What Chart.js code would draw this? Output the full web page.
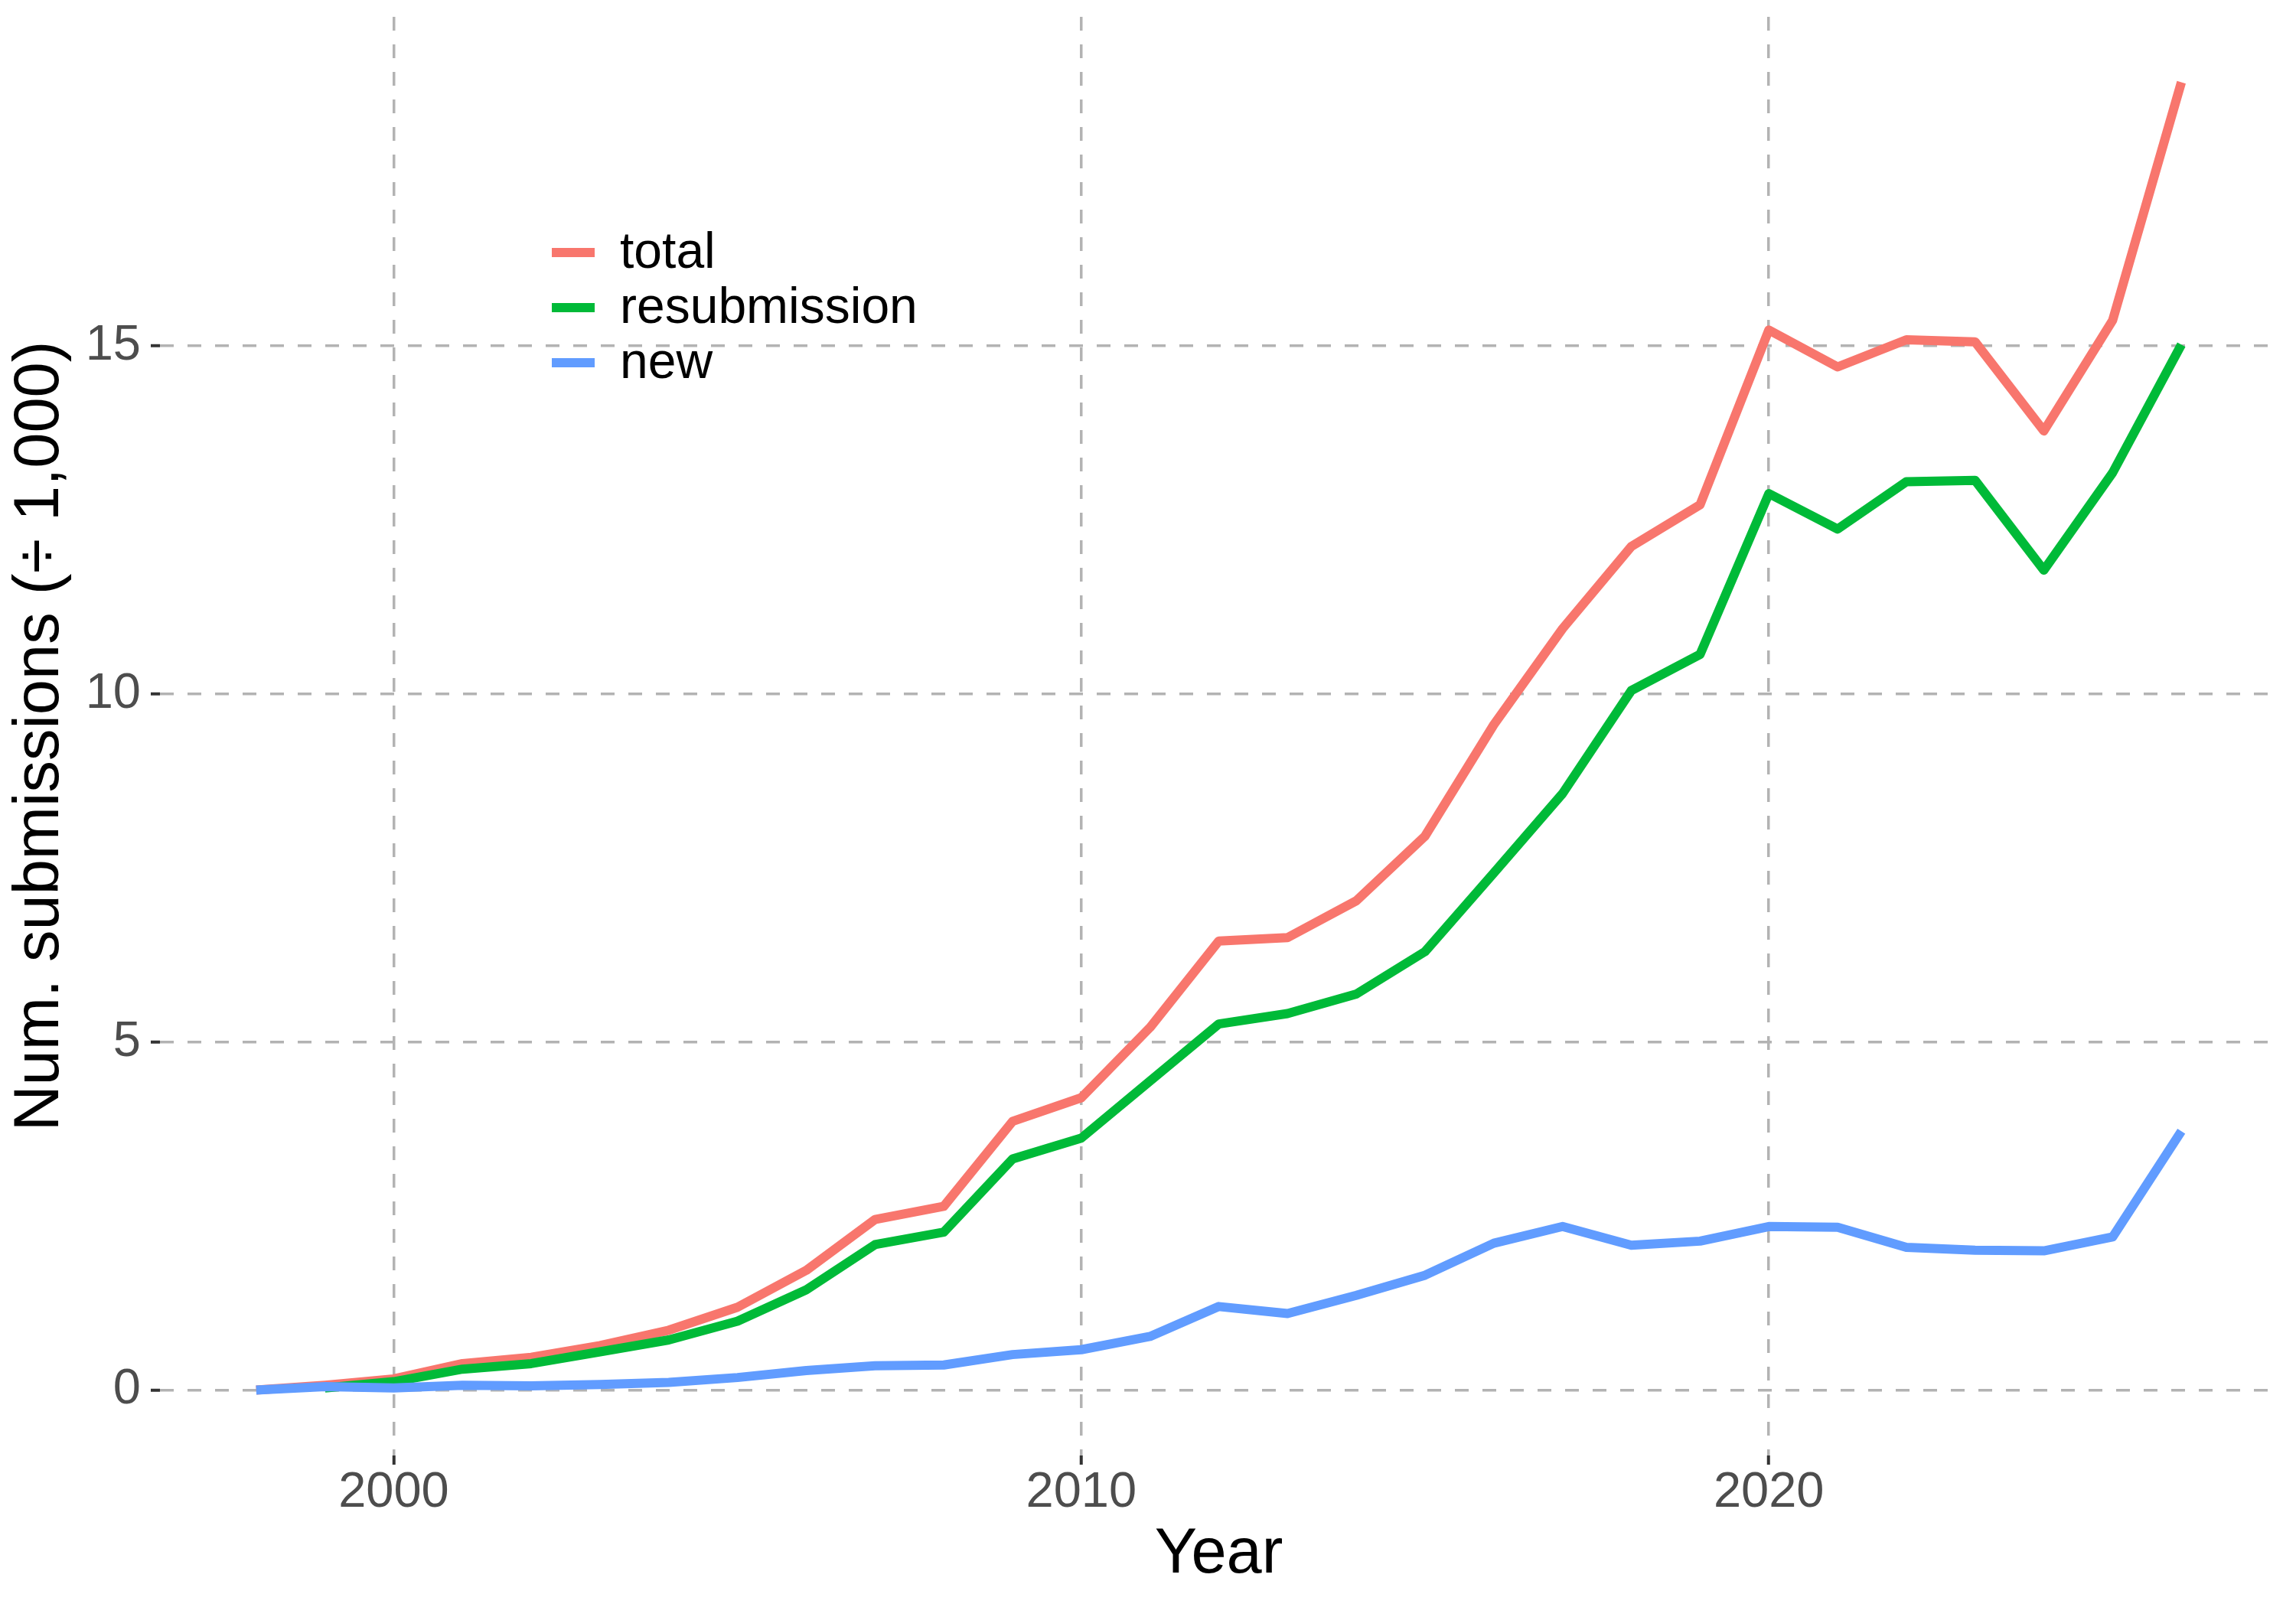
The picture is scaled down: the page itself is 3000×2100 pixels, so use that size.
<!DOCTYPE html>
<html>
<head>
<meta charset="utf-8">
<title>Submissions per year</title>
<script src="https://cdn.jsdelivr.net/npm/chart.js@4.4.1/dist/chart.umd.min.js"></script>
<style>
body { margin: 0; background: #ffffff; }
#subChart { display: block; }
</style>
</head>
<body>
<canvas id="subChart" width="3000" height="2100"></canvas>
<script>
// data (thousands of submissions)
var years = [1998, 1999, 2000, 2001, 2002, 2003, 2004, 2005, 2006, 2007, 2008, 2009, 2010, 2011, 2012, 2013,
             2014, 2015, 2016, 2017, 2018, 2019, 2020, 2021, 2022, 2023, 2024, 2025, 2026];
var total = [0.00, 0.07, 0.16, 0.38, 0.47, 0.64, 0.86, 1.19, 1.72, 2.45, 2.64, 3.86, 4.20, 5.21, 6.45, 6.50,
             7.03, 7.96, 9.56, 10.94, 12.12, 12.72, 15.23, 14.70, 15.09, 15.06, 13.78, 15.37, 18.79];
var resubmission = [null, 0.03, 0.12, 0.30, 0.38, 0.55, 0.72, 0.99, 1.44, 2.09, 2.27, 3.32, 3.62, 4.44, 5.26, 5.41,
             5.69, 6.30, 7.43, 8.57, 10.05, 10.57, 12.88, 12.37, 13.05, 13.07, 11.78, 13.18, 15.02];
var newSub = [0.00, 0.05, 0.03, 0.07, 0.06, 0.08, 0.11, 0.18, 0.28, 0.35, 0.36, 0.51, 0.58, 0.77, 1.20, 1.10,
             1.36, 1.65, 2.11, 2.35, 2.08, 2.14, 2.35, 2.34, 2.05, 2.01, 2.00, 2.20, 3.72];
var seriesNames = ["total", "resubmission", "new"];
var xTicks = [2000, 2010, 2020];
var yTicks = [0, 5, 10, 15];

var FONT = "'Liberation Sans', Arial, Helvetica, sans-serif";

function toPoints(vals) {
	var pts = [];
	for (var i = 0; i < years.length; i++) {
		pts.push({x: years[i], y: vals[i]});
	}
	return pts;
}

// legend drawn inside the panel, ggplot style
var insideLegend = {
	id: 'insideLegend',
	afterDraw: function(chart) {
		var ctx = chart.ctx;
		var ds = chart.data.datasets;
		ctx.save();
		ctx.font = "66px " + FONT;
		ctx.fillStyle = "#000000";
		ctx.textBaseline = "middle";
		for (var i = 0; i < ds.length; i++) {
			var yc = 330 + i * 72;
			ctx.strokeStyle = ds[i].borderColor;
			ctx.lineWidth = 12;
			ctx.lineCap = "butt";
			ctx.beginPath();
			ctx.moveTo(721, yc);
			ctx.lineTo(777, yc);
			ctx.stroke();
			ctx.fillText(ds[i].label, 810, yc + 2);
		}
		ctx.restore();
	}
};

// keep the panel where ggplot put it: no extra room for half labels
function noEdgePadding(scale) {
	scale.paddingTop = 0;
	scale.paddingBottom = 0;
	scale.paddingLeft = 0;
	scale.paddingRight = 0;
}

var chartdata = {
	datasets: [
		{
			label: seriesNames[0],
			data: toPoints(total),
			borderColor: "#F8766D",
			order: 2
		},
		{
			label: seriesNames[1],
			data: toPoints(resubmission),
			borderColor: "#00BA38",
			order: 1
		},
		{
			label: seriesNames[2],
			data: toPoints(newSub),
			borderColor: "#619CFF",
			order: 0
		}
	]
};

var ctx = document.getElementById("subChart");

var lineGraph = new Chart(ctx, {
	type: 'line',
	data: chartdata,
	plugins: [insideLegend],
	options: {
		responsive: false,
		animation: false,
		layout: { padding: { top: 22, right: 24, left: 0, bottom: 0 } },
		elements: {
			line: { borderWidth: 12, tension: 0, borderJoinStyle: 'round', borderCapStyle: 'butt', fill: false },
			point: { radius: 0, hoverRadius: 0 }
		},
		plugins: {
			legend: { display: false },
			tooltip: { enabled: false }
		},
		scales: {
			x: {
				type: 'linear',
				min: 1996.6,
				max: 2027.4,
				afterBuildTicks: function(axis) {
					axis.ticks = xTicks.map(function(v) { return {value: v}; });
				},
				afterFit: function(scale) { scale.height = 198; noEdgePadding(scale); },
				grid: { color: '#b3b3b3', lineWidth: 3.5, drawTicks: true, tickLength: 12, tickColor: '#333333', tickWidth: 4 },
				border: { display: false, dash: [18, 18] },
				ticks: {
					color: '#4d4d4d',
					font: { family: FONT, size: 65, lineHeight: 1 },
					padding: 5,
					maxRotation: 0,
					callback: function(v) { return String(v); }
				},
				title: {
					display: true,
					text: 'Year',
					color: '#000000',
					font: { family: FONT, size: 83, lineHeight: 1 },
					padding: { top: 0, bottom: 26 }
				}
			},
			y: {
				type: 'linear',
				min: -0.94,
				max: 19.73,
				afterBuildTicks: function(axis) {
					axis.ticks = yTicks.map(function(v) { return {value: v}; });
				},
				afterFit: function(scale) { scale.width = 209; noEdgePadding(scale); },
				grid: { color: '#b3b3b3', lineWidth: 3.5, drawTicks: true, tickLength: 12, tickColor: '#333333', tickWidth: 4 },
				border: { display: false, dash: [18, 18] },
				ticks: {
					color: '#4d4d4d',
					font: { family: FONT, size: 65, lineHeight: 1 },
					padding: 13,
					callback: function(v) { return String(v); }
				},
				title: {
					display: true,
					text: 'Num. submissions (\u00f7 1,000)',
					color: '#000000',
					font: { family: FONT, size: 83, lineHeight: 1 },
					padding: { top: 12, bottom: 0 }
				}
			}
		}
	}
});
</script>
</body>
</html>
